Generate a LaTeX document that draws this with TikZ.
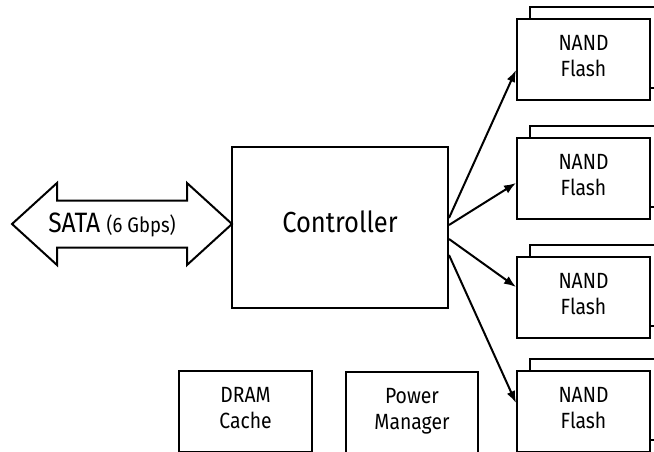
\documentclass[tikz,border=0pt]{standalone}
\usepackage{fontspec}
\setmainfont{Fira Sans}[FakeStretch=0.88]
\usetikzlibrary{arrows.meta}

\begin{document}
\begin{tikzpicture}[x=1pt,y=-1pt,line width=2pt,
    block/.style={draw,fill=white,minimum width=133pt,minimum height=81pt,
      inner sep=0pt,align=center,text depth=8pt,font=\fontsize{22}{26}\selectfont},
    link/.style={-{Latex[length=12pt,width=9pt]}}]
        \useasboundingbox (0,0) rectangle (654,452);
        \clip (0,0) rectangle (654,452);
        \node [draw,minimum width=216pt,minimum height=161pt,inner sep=0pt,text depth=12pt,
          font=\fontsize{29}{35}\selectfont] (ctrl) at (340,227.5) {Controller};
        \draw (12,224) -- (57,183) -- (57,200.5) -- (187,200.5) -- (187,183) --
        (232,224) -- (187,265) -- (187,247.5) -- (57,247.5) -- (57,265) -- cycle;
        \node [font=\fontsize{28}{32}\selectfont] (sata) at (112,225)
          {SATA {\fontsize{21}{25}\selectfont (6 Gbps)}};
        \foreach \i/\y in {1/59.5, 2/178.5, 3/297.5, 4/411.5} {
          \draw [fill=white] (530,\y-52.5) rectangle (663,\y+28.5);
          \node [block] (nand\i) at (583.5,\y) {NAND\\Flash};
        }
        \foreach \i/\a/\b in {1/9.5/-10.5, 2/2.5/-4.5, 3/-11.5/10.5, 4/-27.5/8.5} {
          \draw [link] ([yshift=\a pt]ctrl.east) -- ([yshift=\b pt]nand\i.west);
        }
        \node [block] (dram) at (245.5,411.5) {DRAM\\Cache};
        \node [block,minimum width=132pt] (power) at (412,412.5) {Power\\Manager};
\end{tikzpicture}
\end{document}
